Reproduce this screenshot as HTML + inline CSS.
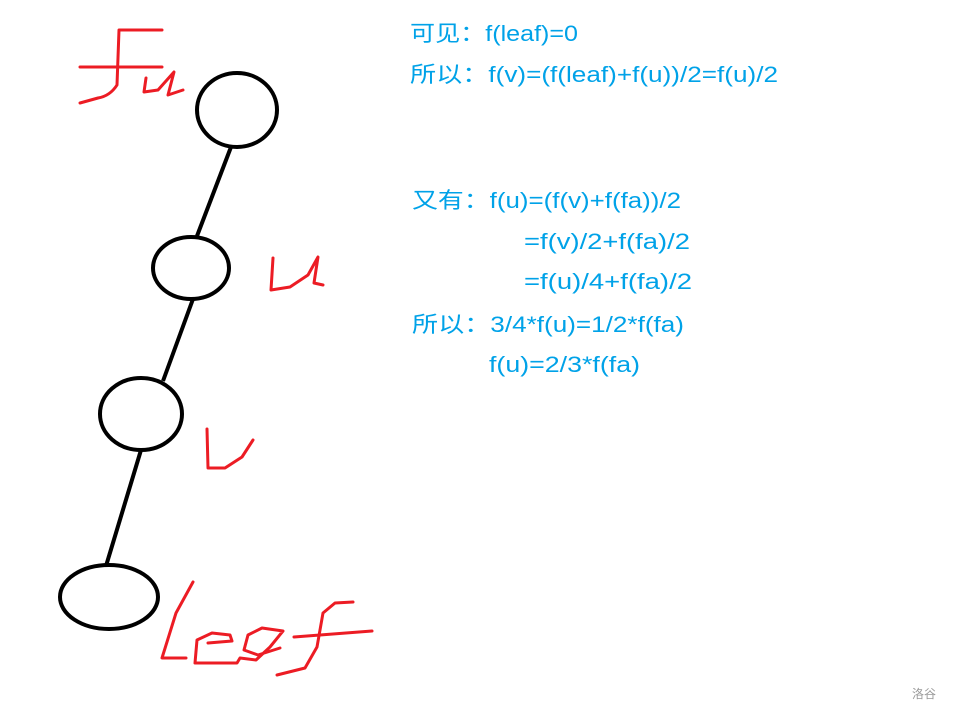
<!DOCTYPE html>
<html><head><meta charset="utf-8"><style>html,body{margin:0;padding:0;background:#fff}svg{display:block}</style></head>
<body>
<svg width="954" height="714" viewBox="0 0 954 714" xmlns="http://www.w3.org/2000/svg">
<g fill="none" stroke="#000" stroke-width="4">
<ellipse cx="237" cy="110" rx="40" ry="37"/>
<ellipse cx="191" cy="268" rx="38" ry="31"/>
<ellipse cx="141" cy="414" rx="41" ry="36"/>
<ellipse cx="109" cy="597" rx="49" ry="32"/>
<line x1="231" y1="147" x2="197" y2="236"/>
<line x1="193" y1="299" x2="163" y2="381"/>
<line x1="141" y1="450" x2="106" y2="566"/>
</g>
<g fill="none" stroke="#ec1c24" stroke-width="3" stroke-linejoin="round" stroke-linecap="round">
<path d="M80 67 L162 67"/>
<path d="M162 30 L119 30 L117 85 Q110 96 98 98 L80 103"/>
<path d="M146 78 L144 92 L158 90 L174 72 L168 95 L183 90"/>
<path d="M273 258 L271 290 L290 287 L308 275 L318 257 L314 283 L323 285"/>
<path d="M207 429 L208 468 L225 468 L242 457 L253 440"/>
<path d="M193 582 L176 613 L162 658 L186 658"/>
<path d="M208 643 L232 641 L230 635 L212 633 L197 640 L195 663 L237 663 L240 658 L256 660 L270 647 L283 631 L262 628 L248 635 L244 650 L258 655 L280 648"/>
<path d="M353 602 L335 603 L323 613 L317 647 L305 668 L277 675"/>
<path d="M294 637 L372 631"/>
</g>
<g fill="#00a2e8" font-family="'Liberation Sans','Noto Sans CJK SC',sans-serif" font-size="22">
<text x="410" y="41" textLength="168" lengthAdjust="spacingAndGlyphs">可见：f(leaf)=0</text>
<text x="410" y="82" textLength="368" lengthAdjust="spacingAndGlyphs">所以：f(v)=(f(leaf)+f(u))/2=f(u)/2</text>
<text x="412" y="208" textLength="269" lengthAdjust="spacingAndGlyphs">又有：f(u)=(f(v)+f(fa))/2</text>
<text x="524" y="249" textLength="166" lengthAdjust="spacingAndGlyphs">=f(v)/2+f(fa)/2</text>
<text x="524" y="289" textLength="168" lengthAdjust="spacingAndGlyphs">=f(u)/4+f(fa)/2</text>
<text x="412" y="332" textLength="272" lengthAdjust="spacingAndGlyphs">所以：3/4*f(u)=1/2*f(fa)</text>
<text x="489" y="372" textLength="151" lengthAdjust="spacingAndGlyphs">f(u)=2/3*f(fa)</text>
</g>
<text x="912" y="698" fill="#999" font-size="12" font-family="'Noto Sans CJK SC',sans-serif">洛谷</text>
</svg>
</body></html>
